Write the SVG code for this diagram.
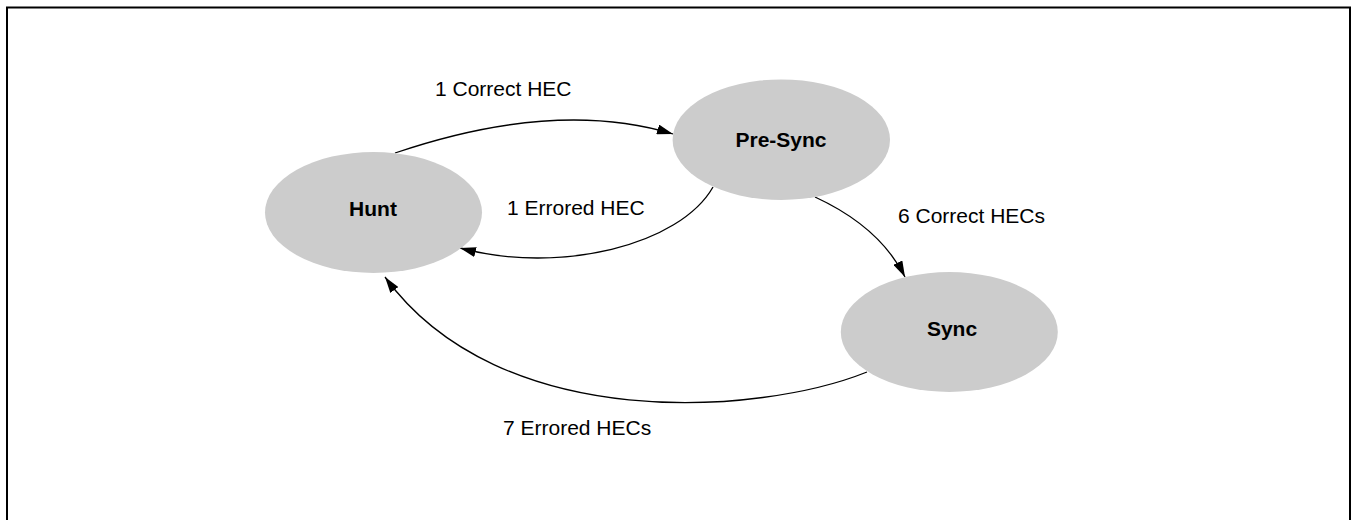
<svg xmlns="http://www.w3.org/2000/svg" width="1351" height="520" viewBox="0 0 1351 520">
<style>
.node{fill:#cccccc;stroke:none}
.nlabel{font-family:"Liberation Sans",Arial,sans-serif;font-size:21px;font-weight:bold;fill:#000;text-anchor:middle}
.elabel{font-family:"Liberation Sans",Arial,sans-serif;font-size:21px;fill:#000}
.edge{fill:none;stroke:#000;stroke-width:1.3}
</style>
<defs>
<marker id="arrow" viewBox="0 0 16 10" markerWidth="16" markerHeight="10" refX="16" refY="5" orient="auto" markerUnits="userSpaceOnUse">
<path d="M0,0 L16,5 L0,10 z" fill="#000"/>
</marker>
</defs>
<rect width="1351" height="520" fill="#fff"/>
<path d="M7,530 L7,7.5 L1350,7.5 L1350,530" fill="none" stroke="#000" stroke-width="2"/>
<g id="connectors">
<path class="edge" d="M395,153 Q556,98.5 673,134" marker-end="url(#arrow)"/>
<path class="edge" d="M713,187 C680,245 560,275 460,248" marker-end="url(#arrow)"/>
<path class="edge" d="M815,197 Q880,227 905,277" marker-end="url(#arrow)"/>
<path class="edge" d="M867,372 C760,415 500,435 385,277" marker-end="url(#arrow)"/>
<text class="elabel" x="435" y="96">1 Correct HEC</text>
<text class="elabel" x="507" y="215">1 Errored HEC</text>
<text class="elabel" x="898" y="223">6 Correct HECs</text>
<text class="elabel" x="503" y="435">7 Errored HECs</text>
</g>
<g id="hunt">
<ellipse class="node" cx="373.5" cy="212.5" rx="108.5" ry="60.5"/>
<text class="nlabel" x="373" y="216">Hunt</text>
</g>
<g id="presync">
<ellipse class="node" cx="781.3" cy="139.7" rx="108.7" ry="60.3"/>
<text class="nlabel" x="781" y="147">Pre-Sync</text>
</g>
<g id="sync">
<ellipse class="node" cx="949.3" cy="332" rx="108.5" ry="60"/>
<text class="nlabel" x="952" y="336">Sync</text>
</g>
</svg>
